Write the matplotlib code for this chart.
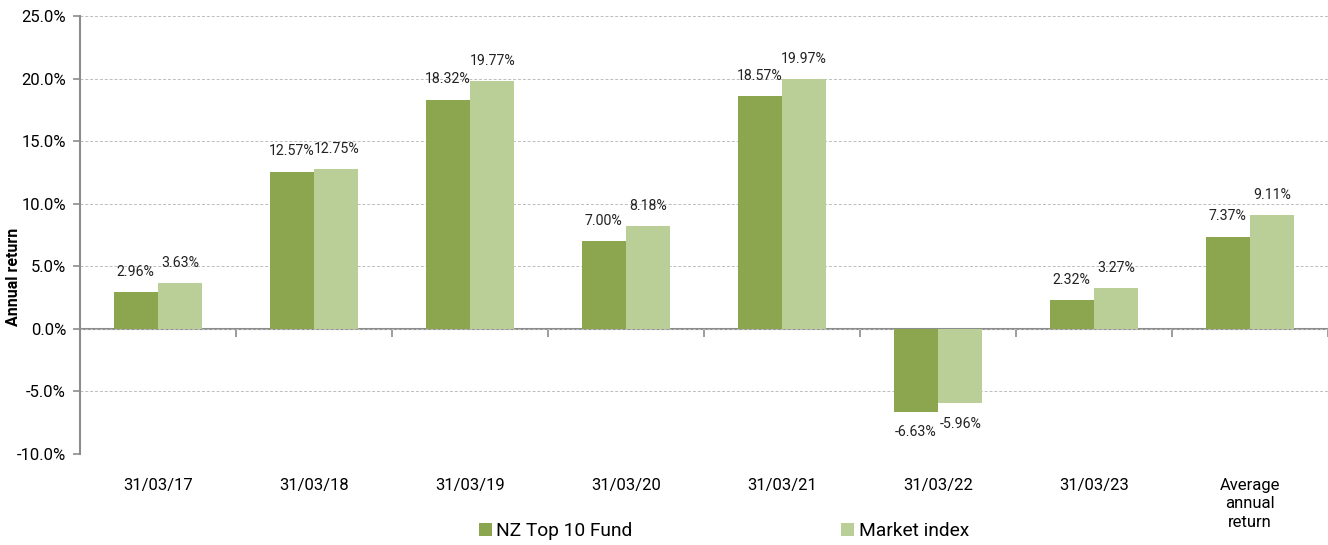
import matplotlib.pyplot as plt
import numpy as np
from matplotlib.ticker import FuncFormatter

plt.rcParams["font.family"] = ["Roboto", "DejaVu Sans"]

# data
periodos = ["31/03/17", "31/03/18", "31/03/19", "31/03/20", "31/03/21",
            "31/03/22", "31/03/23", "Average\nannual\nreturn"]
fondo = [2.96, 12.57, 18.32, 7.00, 18.57, -6.63, 2.32, 7.37]
indice = [3.63, 12.75, 19.77, 8.18, 19.97, -5.96, 3.27, 9.11]
series_nombres = ["NZ Top 10 Fund", "Market index"]

C_FONDO = "#8BA64E"
C_INDICE = "#BACF97"
GRIS = "#8C8C8C"

fig = plt.figure(figsize=(13.28, 5.45), dpi=100)
ax = fig.add_axes([80 / 1328, 1 - 454 / 545, 1 - 80 / 1328, (454 - 16) / 545])

x = np.arange(len(periodos))
w = 0.285
b1 = ax.bar(x - w / 2, fondo, w, color=C_FONDO, label=series_nombres[0], zorder=3)
b2 = ax.bar(x + w / 2, indice, w, color=C_INDICE, label=series_nombres[1], zorder=3)

ax.set_ylim(-10, 25)
ax.set_xlim(-0.5, len(periodos) - 0.5)
ax.set_yticks(np.arange(-10, 26, 5))
ax.yaxis.set_major_formatter(FuncFormatter(lambda v, p: f"{v:.1f}%"))
ax.tick_params(axis="y", labelsize=12, length=5, color=GRIS, width=1.2, pad=5)
ax.set_ylabel("Annual return", fontsize=11.5, fontweight="bold", va="center")
ax.yaxis.set_label_coords(-0.053, 0.404)
ax.grid(axis="y", linestyle=(0, (3, 2)), color="#BDBDBD", linewidth=0.7, zorder=0)

for s in ["top", "right", "bottom"]:
    ax.spines[s].set_visible(False)
ax.spines["left"].set_color(GRIS)
ax.spines["left"].set_linewidth(1.5)

ax.set_xticks(x)
ax.set_xticklabels(periodos, fontsize=12, linespacing=1.3)
ax.tick_params(axis="x", length=0, pad=17)

# eje en cero con marcas entre categorias
sec = ax.secondary_xaxis(10 / 35)
sec.set_xticks(np.arange(-0.5, len(periodos), 1))
sec.set_xticklabels([])
sec.tick_params(length=6, color=GRIS, width=1.2)
sec.spines["bottom"].set_color(GRIS)
sec.spines["bottom"].set_linewidth(1.5)

# etiquetas de valor
for barras, vals in [(b1, fondo), (b2, indice)]:
    for rect, v in zip(barras, vals):
        dy = 14.5 if v >= 0 else -14.5
        ax.annotate(f"{v:.2f}%", (rect.get_x() + rect.get_width() / 2, v),
                    xytext=(0, dy), textcoords="offset points",
                    ha="center", va="center", fontsize=10.2, color="#222222")

fig.legend(loc="center", bbox_to_anchor=(724 / 1328, 1 - 531 / 545), ncol=2,
           frameon=False, fontsize=13.8, handlelength=0.65, handleheight=0.65,
           handletextpad=0.25, columnspacing=10.9)

plt.savefig("out.png", dpi=100)
